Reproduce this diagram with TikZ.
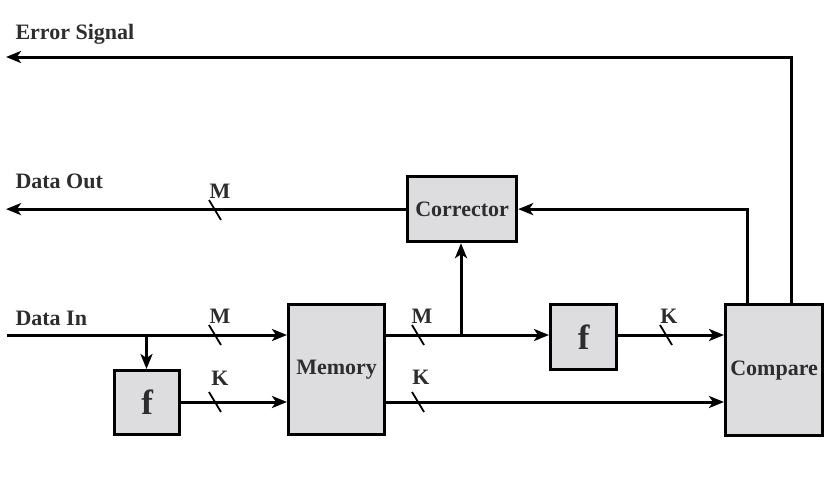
\documentclass[tikz,border=0pt]{standalone}
\usepackage{fontspec}
\setmainfont{Liberation Serif}
\usetikzlibrary{arrows.meta}
\definecolor{boxgray}{RGB}{221,221,224}
\definecolor{inkgray}{RGB}{45,45,45}
\begin{document}
\begin{tikzpicture}[x=1pt,y=-1pt,
  txt/.style={font=\bfseries\fontsize{22}{24}\selectfont, text=inkgray},
  blk/.style={draw, line width=3.2pt, fill=boxgray, inner sep=0pt,
              anchor=north west, txt},
  wire/.style={line width=3pt},
  arr/.style={wire, -{Stealth[length=15pt,width=12pt,inset=4pt]}},
  busmark/.style={line width=1.8pt},
  lbl/.style={txt, anchor=base},
]
\useasboundingbox (0,0) rectangle (836,490);

% blocks
\node[blk, minimum width=109pt, minimum height=65pt] (corr) at (406,175) {Corrector};
\node[blk, minimum width=96pt,  minimum height=130pt] (mem) at (287,303) {Memory};
\node[blk, minimum width=66pt,  minimum height=65pt,
      font=\bfseries\fontsize{35}{36}\selectfont] (f2) at (549,303) {f};
\node[blk, minimum width=97pt,  minimum height=131pt] (cmp) at (724,303) {Compare};
\node[blk, minimum width=65pt,  minimum height=64pt,
      font=\bfseries\fontsize{35}{36}\selectfont] (f1) at (113,369) {f};

% rows and free ends
\coordinate (rowM) at (0,335);
\coordinate (rowK) at (0,402);
\coordinate (errend) at (6,57);
\coordinate (outend) at (6,210);
\coordinate (inend) at (7,335);
\coordinate (split) at (146.5,335);
\coordinate (tap) at (461,335);
\coordinate (cmpA) at (747,305);
\coordinate (cmpB) at (791,305);

% side labels
\node[txt, anchor=base west] (lerr) at (12,39) {Error Signal};
\node[txt, anchor=base west] (lout) at (12,188) {Data Out};
\node[txt, anchor=base west] (lin) at (12,325) {Data In};

% connectors
\draw[arr] (cmpB) |- (errend);
\draw[arr] (cmpA) |- (corr.east);
\draw[arr] (corr.west) -- (corr.west -| outend);
\draw[arr] (inend) -- (mem.west |- rowM);
\draw[arr] (split) -- (split |- f1.north);
\draw[arr] (f1.east |- rowK) -- (mem.west |- rowK);
\draw[arr] (mem.east |- rowM) -- (f2.west |- rowM);
\draw[arr] (tap) -- (tap |- corr.south);
\draw[arr] (f2.east |- rowM) -- (cmp.west |- rowM);
\draw[arr] (mem.east |- rowK) -- (cmp.west |- rowK);

% bus width marks
\draw[busmark] (215,210) ++(-6,-10) -- ++(12,20);
\node[lbl] (mOut) at (220,198) {M};
\draw[busmark] (215,335) ++(-6,-10) -- ++(12,20);
\node[lbl] (mIn) at (220,323) {M};
\draw[busmark] (215,402) ++(-6,-10) -- ++(12,20);
\node[lbl] (kIn) at (220,385) {K};
\draw[busmark] (418,335) ++(-6,-10) -- ++(12,20);
\node[lbl] (mMem) at (422,323) {M};
\draw[busmark] (418,402) ++(-6,-10) -- ++(12,20);
\node[lbl] (kMem) at (421,384) {K};
\draw[busmark] (666,335) ++(-6,-10) -- ++(12,20);
\node[lbl] (kF) at (669,323) {K};
\end{tikzpicture}
\end{document}
